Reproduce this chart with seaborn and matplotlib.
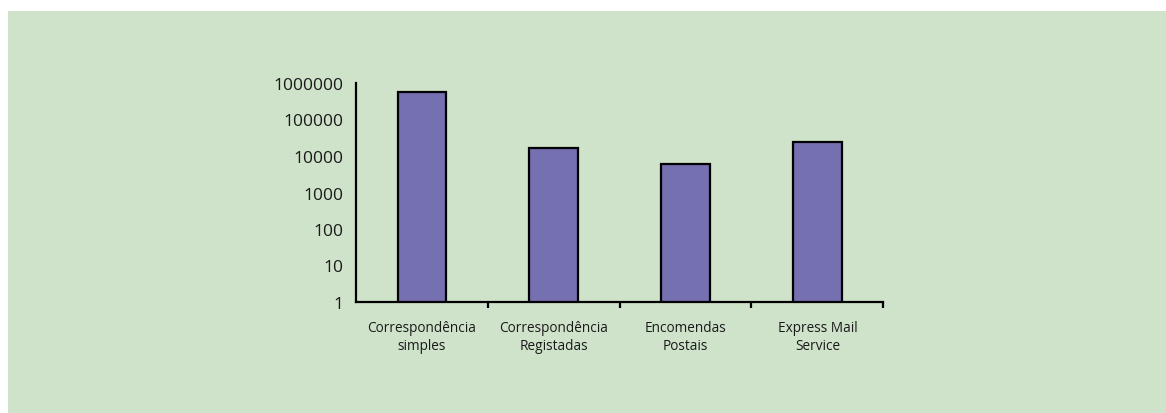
import matplotlib
matplotlib.use('Agg')
import matplotlib.pyplot as plt
import seaborn as sns
import pandas as pd
from matplotlib.patches import Rectangle
from matplotlib.ticker import FixedLocator, NullFormatter

# Data (log scale)
categories = ['Correspondência\nsimples', 'Correspondência\nRegistadas',
              'Encomendas\nPostais', 'Express Mail\nService']
values = [556000, 16300, 6000, 24600]
y_ticks = [1, 10, 100, 1000, 10000, 100000, 1000000]
y_tick_labels = [str(v) for v in y_ticks]

# Colours
BG_GREEN = '#cfe2ca'
BAR_COLOR = '#7570b0'

sns.set_theme(style="white")
plt.rcParams['font.family'] = ['Open Sans', 'DejaVu Sans']

df = pd.DataFrame({'categoria': categories, 'valor': values})

fig = plt.figure(figsize=(11.66, 4.14), dpi=100, facecolor='white')
# green panel behind the chart (white strip on top and left)
fig.patches.append(Rectangle((8 / 1166, 0), 1 - 8 / 1166, 1 - 12 / 414,
                             transform=fig.transFigure, facecolor=BG_GREEN,
                             edgecolor='none', zorder=-10))

ax = fig.add_axes([356 / 1166, 1 - 303 / 414, (883.3 - 356) / 1166, (303 - 84) / 414])
ax.set_facecolor(BG_GREEN)
ax.set_zorder(1)
ax.set_yscale('log')

sns.barplot(data=df, x='categoria', y='valor', ax=ax, color=BAR_COLOR,
            saturation=1, width=0.37, edgecolor='black', linewidth=1.6)

ax.set_ylim(1, 1000000)
ax.set_xlim(-0.5, len(categories) - 0.5)

# y axis: plain numbers, no tick marks
ax.yaxis.set_major_locator(FixedLocator(y_ticks))
ax.set_yticklabels(y_tick_labels)
ax.yaxis.set_minor_formatter(NullFormatter())
ax.tick_params(axis='y', which='both', length=0, pad=9, labelsize=12.5, colors='#1a1a1a')

# x axis: tick marks at category boundaries, labels centred
ax.set_xticks(range(len(categories)))
ax.set_xticklabels(categories, fontsize=9.8, linespacing=1.3)
ax.set_xticks([i - 0.5 for i in range(len(categories) + 1)][1:], minor=True)
ax.tick_params(axis='x', which='major', bottom=True, length=0, pad=13, colors='#1a1a1a')
ax.tick_params(axis='x', which='minor', bottom=True, length=4, width=1.6,
               direction='out', color='black')

ax.set_xlabel('')
ax.set_ylabel('')
for side in ['top', 'right']:
    ax.spines[side].set_visible(False)
for side in ['left', 'bottom']:
    ax.spines[side].set_color('black')
    ax.spines[side].set_linewidth(1.6)

fig.savefig('out.png', dpi=100, facecolor=fig.get_facecolor())
